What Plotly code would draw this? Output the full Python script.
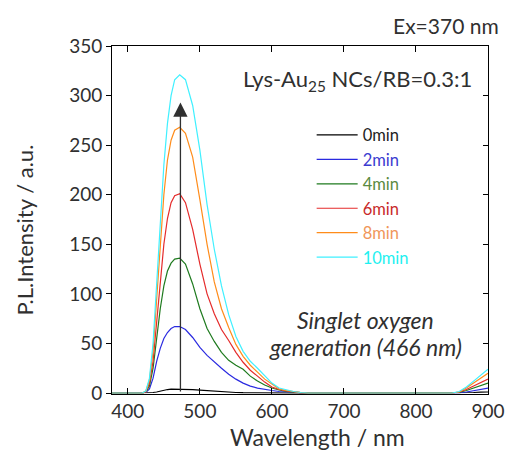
import plotly.graph_objects as go

# wavelength grid (nm)
wavelength = [378, 400, 420, 425, 430, 435, 440, 445, 450, 455, 460, 465, 472, 480, 490,
              500, 510, 520, 530, 540, 550, 560, 570, 580, 590, 600, 610, 620, 630, 640,
              650, 700, 750, 800, 850, 860, 870, 880, 890, 900]

pl_0min = [0, 0, 0, 0, 0, 0.5, 1, 2, 3, 3.5, 4, 4, 4, 4, 3.5,
           3, 2.5, 1.5, 1, 0.8, 0.5, 0.3, 0.2, 0, 0, 0, 0, 0, 0, 0,
           0, 0, 0, 0, 0, 0, 0.2, 0.5, 0.8, 1]
pl_2min = [0, 0, 0, 0.5, 4, 15, 32, 45, 55, 61, 65, 67, 67, 64, 56,
           46, 38, 31, 25, 19, 14, 10, 7, 5, 3.5, 2.5, 1.5, 1, 0.5, 0.2,
           0, 0, 0, 0, 0, 0.3, 1, 2.5, 4, 5]
pl_4min = [0, 0, 0, 1, 7, 25, 55, 85, 108, 123, 131, 135, 136, 130, 110,
           85, 65, 52, 41, 33, 28, 24, 17, 12, 8, 5, 3, 1.5, 0.8, 0.3,
           0, 0, 0, 0, 0, 0.5, 2.5, 5, 7.5, 10]
pl_6min = [0, 0, 0, 1, 10, 32, 70, 112, 150, 176, 192, 199, 201, 192, 165,
           130, 100, 80, 64, 53, 41, 31, 23, 17, 11, 6, 3.5, 2, 1, 0.3,
           0, 0, 0, 0, 0, 1, 3.5, 7, 10.5, 14]
pl_8min = [0, 0, 0, 2, 13, 42, 95, 150, 200, 235, 255, 265, 268, 262, 238,
           195, 150, 112, 85, 66, 49, 37, 28, 21, 14, 9, 4, 2.5, 1.2, 0.5,
           0, 0, 0, 0, 0, 1, 5, 10, 15, 20]
pl_10min = [0, 0, 0, 2, 15, 50, 110, 175, 230, 272, 300, 316, 321, 316, 290,
            245, 190, 145, 108, 79, 57, 42, 32, 25, 17, 10, 5, 3, 1.5, 0.5,
            0, 0, 0, 0, 0, 1.5, 6, 12, 18, 24]

series_names = ["0min", "2min", "4min", "6min", "8min", "10min"]
series_values = [pl_0min, pl_2min, pl_4min, pl_6min, pl_8min, pl_10min]
line_colors = ["#000000", "#2a2ae0", "#1e7a1e", "#e52b2b", "#ff8c1a", "#3ff0ff"]
text_colors = ["#222222", "#3b3bd0", "#5a8a40", "#c82a2a", "#f0965a", "#1ef0f0"]

arrow_wavelength = 473
arrow_top = 293

fig = go.Figure()
for name, vals, lc, tc in zip(series_names, series_values, line_colors, text_colors):
    fig.add_trace(go.Scatter(
        x=wavelength, y=vals, mode="lines",
        line=dict(color=lc, width=1.2),
        name=f'<span style="color:{tc}">{name}</span>',
    ))

# invisible trace carrying the right-hand axis
fig.add_trace(go.Scatter(x=[wavelength[0]], y=[0], yaxis="y2", mode="lines",
                         line=dict(width=0), showlegend=False, hoverinfo="skip"))

TXT = "#303030"
fig.update_layout(
    width=517, height=454,
    margin=dict(l=112, r=24, t=46, b=60),
    paper_bgcolor="white", plot_bgcolor="white",
    font=dict(family="Lato", size=19, color=TXT),
    showlegend=True,
    legend=dict(x=0.531, y=0.794, xanchor="left", yanchor="top",
                bgcolor="rgba(0,0,0,0)", font=dict(size=16.5),
                itemwidth=41, traceorder="normal"),
    xaxis=dict(range=[378, 900], tick0=400, dtick=100, ticks="inside", ticklen=6,
               showline=True, linecolor="#000000", linewidth=1, mirror="ticks",
               showgrid=False, zeroline=False, tickcolor="#000000",
               tickfont=dict(size=19, color=TXT)),
    yaxis=dict(range=[-1, 350], tick0=0, dtick=50, ticks="outside", ticklen=5,
               showline=True, linecolor="#000000", linewidth=1, mirror=True,
               showgrid=False, zeroline=False, tickcolor="#000000",
               tickfont=dict(size=19, color=TXT)),
    yaxis2=dict(range=[-1, 350], tick0=0, dtick=50, ticks="inside", ticklen=5,
                overlaying="y", side="right", anchor="x",
                showline=True, linecolor="#000000", linewidth=1,
                showticklabels=False, showgrid=False, zeroline=False,
                tickcolor="#000000"),
)

fig.add_annotation(x=arrow_wavelength, y=arrow_top, ax=arrow_wavelength, ay=0,
                   xref="x", yref="y", axref="x", ayref="y", text="",
                   showarrow=True, arrowhead=2, arrowsize=2.2, arrowwidth=1.3,
                   arrowcolor="#303030")

fig.add_annotation(x=1.035, y=1.06, xref="paper", yref="paper", xanchor="right",
                   yanchor="middle", text="Ex=370 nm", showarrow=False,
                   font=dict(size=21, color=TXT))
fig.add_annotation(x=0.963, y=0.902, xref="paper", yref="paper", xanchor="right",
                   yanchor="middle", text="Lys-Au<sub>25</sub> NCs/RB=0.3:1",
                   showarrow=False, font=dict(size=22, color=TXT))
fig.add_annotation(x=0.675, y=0.213, xref="paper", yref="paper", xanchor="center",
                   yanchor="middle", text="<i>Singlet oxygen</i>",
                   showarrow=False, font=dict(size=23, color=TXT))
fig.add_annotation(x=0.675, y=0.135, xref="paper", yref="paper", xanchor="center",
                   yanchor="middle", text="<i>generation (466 nm)</i>",
                   showarrow=False, font=dict(size=23, color=TXT))
fig.add_annotation(x=-0.233, y=0.471, xref="paper", yref="paper", xanchor="center",
                   yanchor="middle", text="P.L.Intensity / a.u.", textangle=-90,
                   showarrow=False, font=dict(size=22, color=TXT))
fig.add_annotation(x=0.546, y=-0.124, xref="paper", yref="paper", xanchor="center",
                   yanchor="middle", text="Wavelength / nm",
                   showarrow=False, font=dict(size=23, color=TXT))

fig.write_html("out.html", config={"displayModeBar": False},
               post_script="document.body.style.margin='0';document.body.style.overflow='hidden';")
